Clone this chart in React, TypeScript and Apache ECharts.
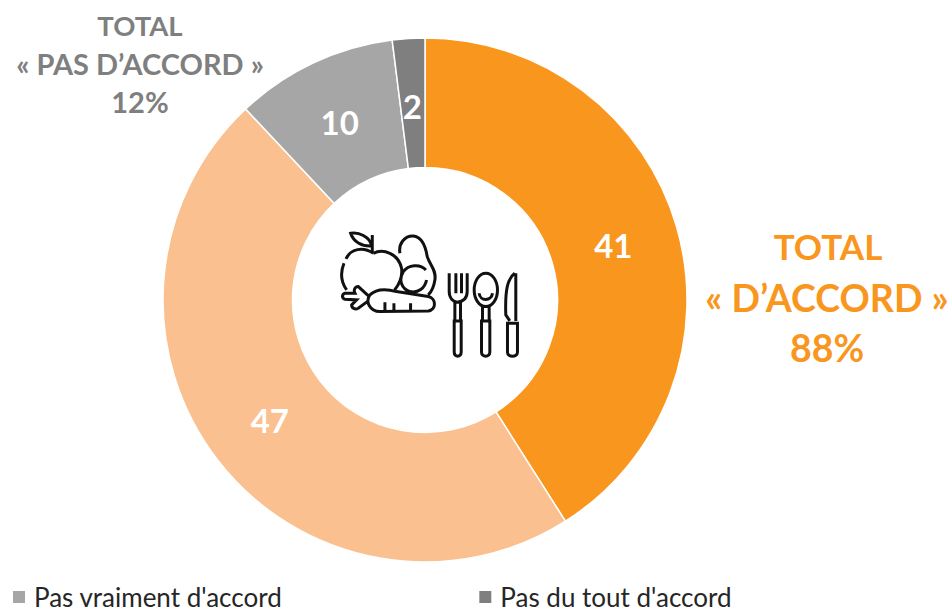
import React, { useEffect, useRef } from "react";
import * as echarts from "echarts";

const categories = ["Tout à fait d'accord", "Plutôt d'accord", "Pas vraiment d'accord", "Pas du tout d'accord"];
const values = [41, 47, 10, 2];
const colors = ["#F8961E", "#FBC08F", "#A6A6A6", "#7F7F7F"];
const legendItems = ["Pas vraiment d'accord", "Pas du tout d'accord"];
const labelOffsets = [[-4, 1], [3, -3], [0, 3], [0, 6]];
const FONT = "Lato, Carlito, Calibri, sans-serif";

const iconPath = [
  "M72 145C62 170 62 200 80 225",
  "M160 115C130 95 92 100 78 132",
  "M160 115C190 100 235 115 245 160C248 185 238 208 224 225",
  "M157 60V115",
  "M92 55C115 50 150 65 155 93C125 95 100 80 92 55Z",
  "M240 115C235 85 255 62 280 63C310 65 318 100 322 125C330 150 350 165 345 195C342 215 335 230 325 240",
  "M318 165C300 145 265 150 250 170C235 195 245 222 270 230C295 235 315 220 320 195",
  "M150 240C170 220 200 222 230 230L325 245C350 250 350 285 325 288L180 290C150 290 135 260 150 240Z",
  "M195 262V285M222 265V285M272 265V285",
  "M148 245L115 215C105 215 100 225 105 235L75 235C65 238 65 250 75 253L110 255L95 270C95 280 105 285 115 280L145 258",
  "M388 175V230C388 250 400 260 412 262C430 260 442 250 442 230V175M408 175V235M425 175V235",
  "M405 262V318M422 262V318M403 318H424V412C424 428 403 428 403 412Z",
  "M498 175C478 175 463 198 463 225C463 252 478 275 498 275C518 275 533 252 533 225C533 198 518 175 498 175Z",
  "M478 235C480 260 515 260 518 235M488 275V318M508 275V318",
  "M485 318H510V412C510 428 485 428 485 412Z",
  "M585 175C565 190 555 220 558 300L570 318M588 175V318",
  "M563 325H593V412C593 428 563 428 563 412Z",
].join("");

echarts.graphic.registerShape("foodIcon", echarts.graphic.extendPath(iconPath, {}) as any);

function totalText(text: string, x: number, y: number, size: number, fill: string) {
  return {
    type: "text",
    x,
    y,
    style: {
      text,
      fill,
      font: `bold ${size}px ${FONT}`,
      textAlign: "center",
      textVerticalAlign: "middle",
    },
  };
}

export default function App() {
  const ref = useRef<HTMLDivElement>(null);
  useEffect(() => {
    const chart = echarts.init(ref.current!, undefined, { renderer: "svg" });
    chart.setOption({
      animation: false,
      backgroundColor: "#ffffff",
      color: colors,
      legend: {
        data: legendItems,
        left: 11,
        top: 583,
        padding: 0,
        icon: "rect",
        itemWidth: 14,
        itemHeight: 14,
        itemGap: 195,
        textStyle: { fontFamily: FONT, fontSize: 26, lineHeight: 28, color: "#262626", padding: [0, 0, 0, 3] },
      },
      series: [
        {
          type: "pie",
          center: [425, 300],
          radius: [132.5, 262],
          startAngle: 90,
          clockwise: true,
          silent: true,
          itemStyle: { borderColor: "#ffffff", borderWidth: 1.5 },
          label: {
            show: true,
            position: "inside",
            formatter: "{c}",
            color: "#ffffff",
            fontFamily: FONT,
            fontWeight: "bold",
            fontSize: 33,
          },
          labelLine: { show: false },
          data: categories.map((name, i) => ({
            name,
            value: values[i],
            label: { offset: labelOffsets[i] },
          })),
        },
      ],
      graphic: [
        totalText("TOTAL", 140, 25, 27.5, "#7F7F7F"),
        totalText("« PAS D’ACCORD »", 140, 63, 29, "#7F7F7F"),
        totalText("12%", 140, 101, 29, "#7F7F7F"),
        totalText("TOTAL", 828, 246, 35, "#F8961E"),
        totalText("« D’ACCORD »", 827, 297, 37.5, "#F8961E"),
        totalText("88%", 827, 347, 37.5, "#F8961E"),
        {
          type: "foodIcon",
          x: 320,
          y: 215,
          scaleX: 1 / 3,
          scaleY: 1 / 3,
          style: { fill: "none", stroke: "#111111", lineWidth: 9 },
        },
      ],
    });
    return () => chart.dispose();
  }, []);
  return <div ref={ref} style={{ position: "fixed", left: 0, top: 0, width: 952, height: 614 }} />;
}
